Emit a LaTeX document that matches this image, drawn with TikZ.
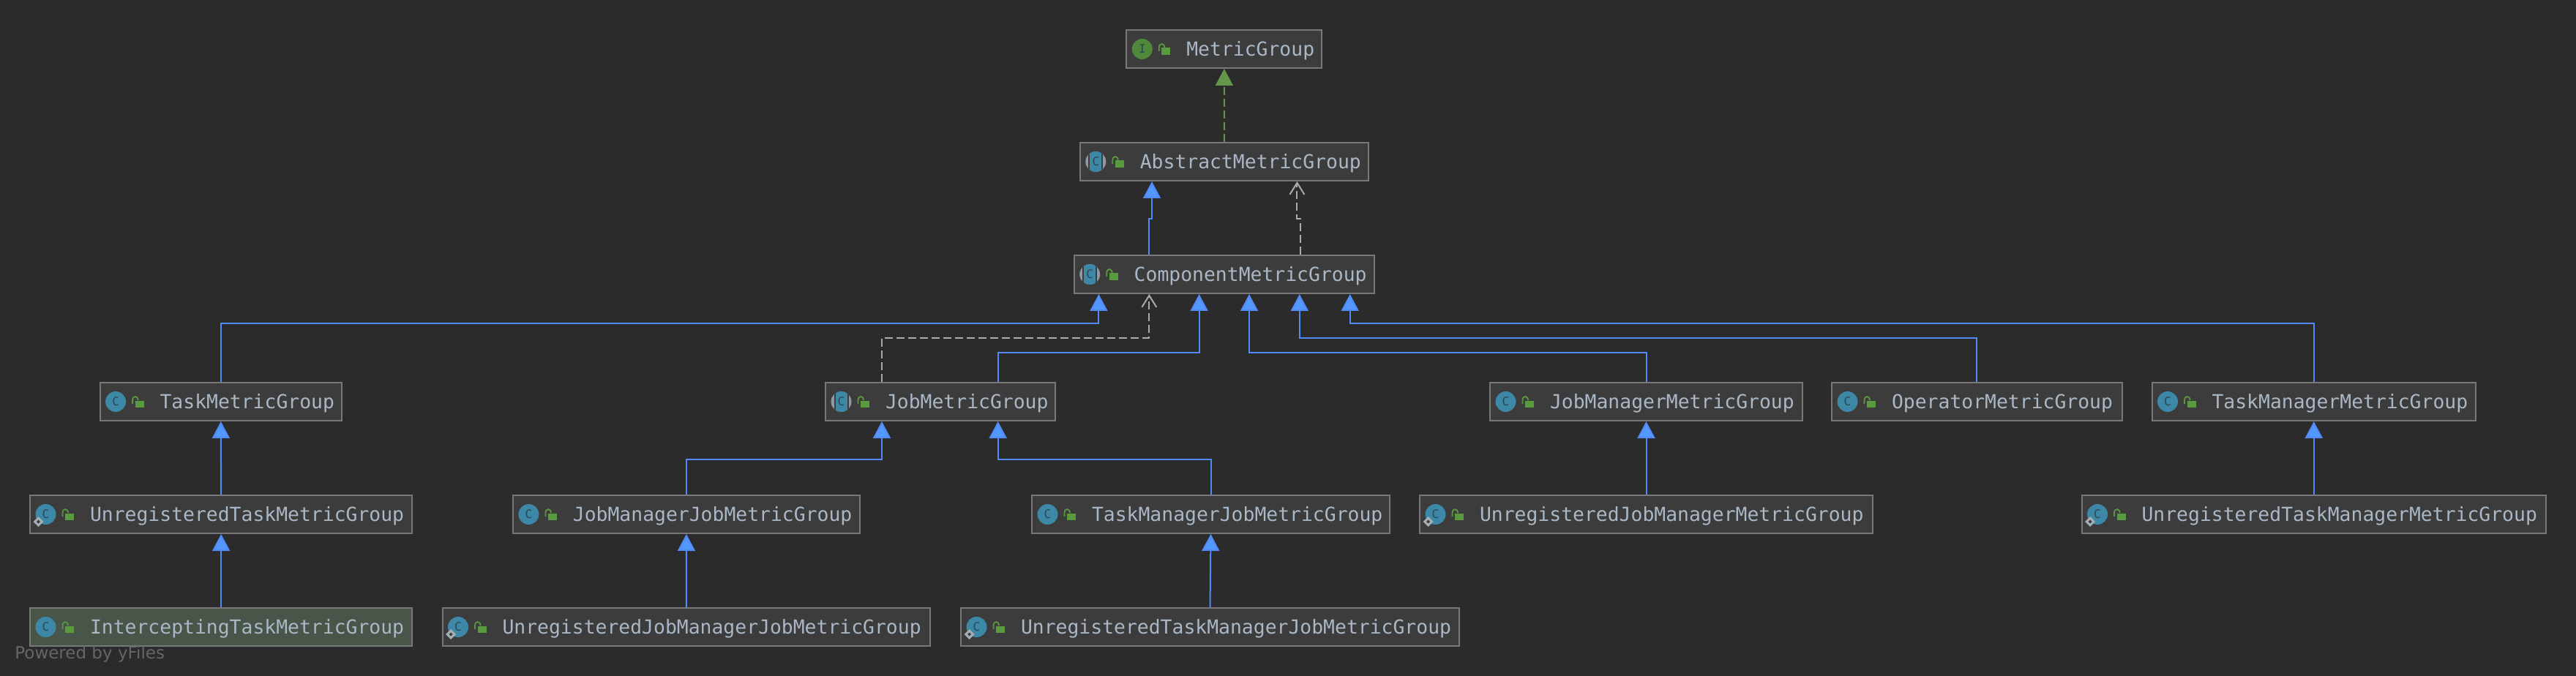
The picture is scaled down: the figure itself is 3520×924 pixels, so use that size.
\documentclass[tikz,border=0pt]{standalone}
\usepackage{fontspec}
\newfontfamily\monof{DejaVu Sans Mono}
\newfontfamily\sansf{DejaVu Sans}
\usetikzlibrary{arrows.meta,calc}
\definecolor{bgc}{HTML}{2B2B2B}
\definecolor{boxc}{HTML}{3C3C3C}
\definecolor{boxhl}{HTML}{4A5549}
\definecolor{edgec}{HTML}{787878}
\definecolor{txtc}{HTML}{A9B7C6}
\definecolor{blueln}{HTML}{548AF7}
\definecolor{bluetip}{HTML}{5199FF}
\definecolor{greenln}{HTML}{62964A}
\definecolor{grayln}{HTML}{ABABAB}
\definecolor{tealc}{HTML}{3D88A6}
\definecolor{greenc}{HTML}{4F8A3C}
\definecolor{lockc}{HTML}{599A3F}
\definecolor{iconink}{HTML}{2A4652}
\definecolor{sidec}{HTML}{8F99A3}
\definecolor{yfc}{HTML}{666666}
\tikzset{
  classbox/.style={draw=edgec,line width=1pt,fill=boxc,inner xsep=0pt,inner ysep=0pt,outer sep=0pt,
    minimum height=26pt,text height=10pt,text depth=0.5pt,align=left,text=txtc,font=\monof\fontsize{13.2}{15}\selectfont},
  hl/.style={fill=boxhl},
  letter/.style={inner sep=0pt,text=iconink,font=\monof\fontsize{8}{8}\selectfont},
  extblue/.style={draw=blueln,line width=1pt,shorten <=0.5pt,shorten >=0.5pt,-{Triangle[length=11.5pt,width=12pt,fill=bluetip]}},
  implgreen/.style={draw=greenln,line width=1pt,dash pattern=on 5.5pt off 2.5pt,shorten <=0.5pt,shorten >=0.5pt,-{Triangle[length=11.5pt,width=12pt,fill=greenln,sep=0pt]}},
  depgray/.style={draw=grayln,line width=1pt,dash pattern=on 5.5pt off 2.5pt,shorten <=0.5pt,shorten >=0.5pt,-{Straight Barb[length=8pt,width=10pt,line width=1pt]}},
}
\newcommand{\lockicon}{%
  \fill[lockc] (48,-1.5) rectangle (60,8);
  \draw[lockc,line width=0.9pt] (44.5,3) -- (44.5,-2) .. controls (44.5,-8.5) and (52,-8.5) .. (52,-2);
}
\newcommand{\markdia}{%
  \fill[sidec!80!white] (11.5,3) -- (18.5,10) -- (11.5,17) -- (4.5,10) -- cycle;
  \fill[boxc] (11.5,7.5) -- (14,10) -- (11.5,12.5) -- (9,10) -- cycle;
}
% #1 extra style, #2 left, #3 right, #4 name, #5 y centre, #6 text
\newcommand{\ubox}[6][]{%
  \pgfmathsetmacro\bw{(#3-#2)*0.5}%
  \pgfmathsetmacro\bc{(#3+#2)*0.5}%
  \node[classbox,#1,minimum width=\bw pt,text width=\bw pt] (#4) at (\bc,#5) {\hspace*{41pt}#6};
}
\newcommand{\iconc}[1]{%
  \begin{scope}[shift={(#1.west)}]
    \fill[tealc] (21.5,0) circle[radius=7pt];
    \node[letter] (#1-l) at (21.5,0) {C};
    \lockicon
  \end{scope}}
\newcommand{\iconu}[1]{%
  \begin{scope}[shift={(#1.west)}]
    \fill[tealc] (21.5,0) circle[radius=7pt];
    \node[letter] (#1-l) at (21.5,0) {C};
    \markdia
    \lockicon
  \end{scope}}
\newcommand{\icona}[1]{%
  \begin{scope}[shift={(#1.west)}]
    \begin{scope}
      \clip (21.5,0) circle[radius=7pt];
      \fill[sidec] (7,-15) rectangle (36,15);
      \fill[boxc] (11.5,-15) rectangle (31.5,15);
      \fill[tealc] (13.5,-15) rectangle (29.5,15);
    \end{scope}
    \node[letter] (#1-l) at (21.5,0) {C};
    \lockicon
  \end{scope}}
\begin{document}
\begin{tikzpicture}[x=0.5pt,y=-0.5pt]
\useasboundingbox (0,0) rectangle (3520,924);
\fill[bgc] (0,0) rectangle (3520,924);

\ubox{1539.3}{1806.4}{metric}{67}{MetricGroup}
\ubox{1475.8}{1870}{abs}{221}{AbstractMetricGroup}
\ubox{1467.7}{1878.4}{comp}{375}{ComponentMetricGroup}
\ubox{136.6}{467}{task}{549}{TaskMetricGroup}
\ubox{1128}{1441.7}{job}{549}{JobMetricGroup}
\ubox{2036}{2463}{jmm}{549}{JobManagerMetricGroup}
\ubox{2503}{2899.6}{op}{549}{OperatorMetricGroup}
\ubox{2940.5}{3383}{tmm}{549}{TaskManagerMetricGroup}
\ubox{41}{563.3}{utask}{703}{UnregisteredTaskMetricGroup}
\ubox{700.9}{1175}{jmj}{703}{JobManagerJobMetricGroup}
\ubox{1410}{1899}{tmj}{703}{TaskManagerJobMetricGroup}
\ubox{1940}{2559}{ujm}{703}{UnregisteredJobManagerMetricGroup}
\ubox{2844.5}{3479}{utm}{703}{UnregisteredTaskManagerMetricGroup}
\ubox[hl]{41}{563.3}{itask}{857}{InterceptingTaskMetricGroup}
\ubox{604.5}{1271}{ujmj}{857}{UnregisteredJobManagerJobMetricGroup}
\ubox{1313}{1994}{utmj}{857}{UnregisteredTaskManagerJobMetricGroup}

% interface icon
\begin{scope}[shift={(metric.west)}]
  \fill[greenc] (21.5,0) circle[radius=7pt];
  \node[letter] (metric-l) at (21.5,0) {I};
  \lockicon
\end{scope}
\icona{abs}\icona{comp}\icona{job}
\iconc{task}\iconc{jmm}\iconc{op}\iconc{tmm}\iconc{jmj}\iconc{tmj}\iconc{itask}
\iconu{utask}\iconu{ujm}\iconu{utm}\iconu{ujmj}\iconu{utmj}

% connector ends on the boxes
\coordinate (c1) at ([xshift=16.85pt]comp.south west);
\coordinate (c2) at ([xshift=51.3pt]comp.south west);
\coordinate (c3) at ([xshift=85.45pt]comp.south west);
\coordinate (c4) at ([xshift=119.65pt]comp.south west);
\coordinate (c5) at ([xshift=154.05pt]comp.south west);
\coordinate (c6) at ([xshift=188.5pt]comp.south west);
\coordinate (j1) at ([xshift=38.5pt]job.south west);
\coordinate (j2) at ([xshift=117.85pt]job.south west);
\coordinate (jt1) at ([xshift=38.5pt]job.north west);
\coordinate (jt2) at ([xshift=117.85pt]job.north west);
\coordinate (a1) at ([xshift=49.1pt]abs.south west);
\coordinate (a2) at ([xshift=148.3pt]abs.south west);
\coordinate (ct1) at ([xshift=51.3pt]comp.north west);
\coordinate (ct2) at ([xshift=154.45pt]comp.north west);

\draw[implgreen] (abs.north) -- (metric.south);
\draw[extblue] (ct1) -- (ct1 |- 0,299) -- (a1 |- 0,299) -- (a1);
\draw[depgray] (ct2) -- (ct2 |- 0,299) -- (a2 |- 0,299) -- (a2);

\draw[extblue] (task.north) -- (task.north |- 0,442) -- (c1 |- 0,442) -- (c1);
\draw[depgray] (jt1) -- (jt1 |- 0,462) -- (c2 |- 0,462) -- (c2);
\draw[extblue] (jt2) -- (jt2 |- 0,482) -- (c3 |- 0,482) -- (c3);
\draw[extblue] (jmm.north) -- (jmm.north |- 0,482) -- (c4 |- 0,482) -- (c4);
\draw[extblue] (op.north) -- (op.north |- 0,462) -- (c5 |- 0,462) -- (c5);
\draw[extblue] (tmm.north) -- (tmm.north |- 0,442) -- (c6 |- 0,442) -- (c6);

\draw[extblue] (utask.north) -- (task.south);
\draw[extblue] (itask.north) -- (utask.south);
\draw[extblue] (jmj.north) -- (jmj.north |- 0,628) -- (j1 |- 0,628) -- (j1);
\draw[extblue] (tmj.north) -- (tmj.north |- 0,628) -- (j2 |- 0,628) -- (j2);
\draw[extblue] (ujmj.north) -- (jmj.south);
\draw[extblue] (utmj.north) -- (tmj.south);
\draw[extblue] (ujm.north) -- (jmm.south);
\draw[extblue] (utm.north) -- (tmm.south);

\node[anchor=base west,inner sep=0pt,text=yfc,font=\sansf\fontsize{11.5}{13}\selectfont] (yf) at (20,900) {Powered by yFiles};
\end{tikzpicture}
\end{document}
